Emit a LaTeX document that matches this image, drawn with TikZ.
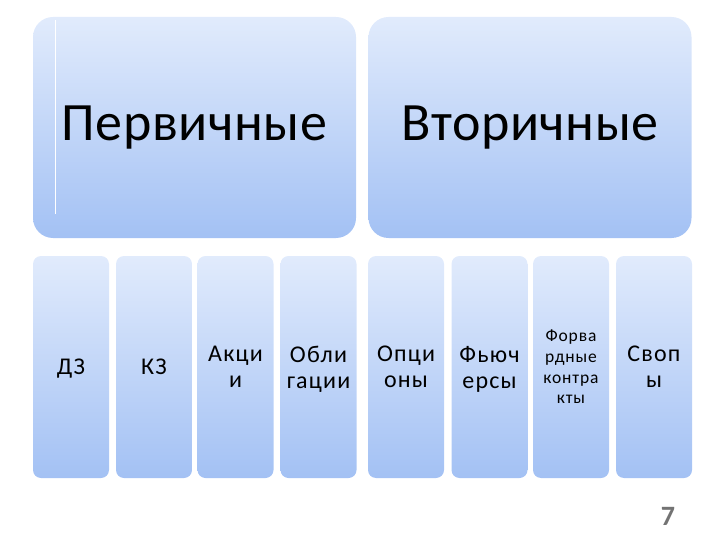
\documentclass[tikz,border=0pt]{standalone}
\usepackage{fontspec}
\setmainfont{Carlito}
\usetikzlibrary{positioning}

\definecolor{boxtop}{RGB}{225,235,252}
\definecolor{boxbot}{RGB}{163,193,244}

\tikzset{
    groupbox/.style={rectangle, rounded corners=20pt, top color=boxtop, bottom color=boxbot,
                     minimum width=323pt, minimum height=221pt, inner sep=0pt,
                     font=\fontsize{54}{60}\selectfont\addfontfeatures{LetterSpace=1}},
    kindbox/.style={rectangle, rounded corners=8pt, top color=boxtop, bottom color=boxbot,
                    minimum width=76pt, minimum height=222pt, inner sep=0pt, align=center,
                    text depth=0pt,
                    font=\fontsize{24}{26}\selectfont\addfontfeatures{LetterSpace=5}},
}

\begin{document}
\begin{tikzpicture}[x=1pt,y=-1pt]
    \useasboundingbox (0,0) rectangle (720,540);

\node[groupbox] (primary)   at (194.5,127.5) {Первичные};
\node[groupbox] (secondary) at (530.0,127.5) {Вторичные};
\draw [white, line width=0.8pt] (55,20) -- (55,214);

\node[kindbox] (debit)    at ( 71.0,367) {ДЗ};
\node[kindbox] (credit)   at (154.0,367) {КЗ};
\node[kindbox] (shares)   at (235.5,367) {Акци\\и};
\node[kindbox] (bonds)    at (318.5,367) {Обли\\гации};
\node[kindbox] (options)  at (406.0,367) {Опци\\оны};
\node[kindbox] (futures)  at (489.5,367) {Фьюч\\ерсы};
\node[kindbox, font=\fontsize{17.5}{20.7}\selectfont\addfontfeatures{LetterSpace=5}]
               (forwards) at (571.0,367) {Форва\\рдные\\контра\\кты};
\node[kindbox] (swaps)    at (654.0,367) {Своп\\ы};

\node [text=black!55, font=\fontsize{28}{30}\selectfont\bfseries] (pagenum) at (668,516) {7};

\end{tikzpicture}
\end{document}
